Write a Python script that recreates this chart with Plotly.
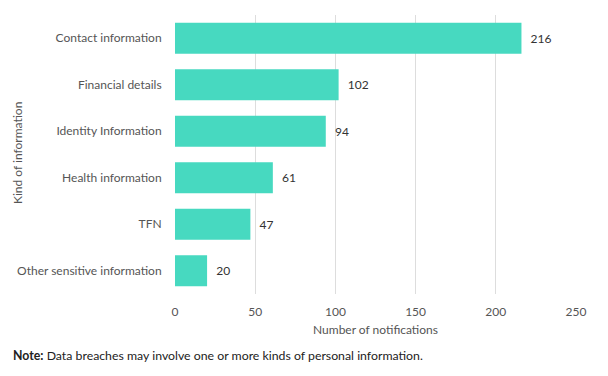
import plotly.graph_objects as go

categories = ["Contact information", "Financial details", "Identity Information",
              "Health information", "TFN", "Other sensitive information"]
values = [216, 102, 94, 61, 47, 20]
tick_vals = [0, 50, 100, 150, 200, 250]

FONT = "Lato, 'Source Sans Pro', 'Open Sans', sans-serif"

# page body has an 8px default margin; figure is sized/offset to compensate
OFF = 8
W, H = 608 - OFF, 376 - OFF
L, R, T, B = 175 - OFF, 32, 15 - OFF, 82

fig = go.Figure(go.Bar(
    x=values, y=categories, orientation="h",
    marker=dict(color="#47D9C0", line=dict(width=0)),
    text=["\u00a0\u00a0" + str(v) for v in values], textposition="outside",
    textfont=dict(size=12, color="#333333", family=FONT),
    cliponaxis=False,
))

fig.update_layout(
    width=W, height=H,
    margin=dict(l=L, r=R, t=T, b=B),
    paper_bgcolor="white", plot_bgcolor="white",
    bargap=0.33,
    showlegend=False,
    font=dict(family=FONT, size=12, color="#555555"),
    xaxis=dict(range=[0, 250], tickvals=tick_vals, showgrid=True, gridcolor="#dddddd",
               gridwidth=1, zeroline=False, showline=False,
               ticks="outside", ticklen=7, tickcolor="rgba(0,0,0,0)",
               tickfont=dict(size=12, color="#555555"),
               title=dict(text="Number of notifications", font=dict(size=12, color="#555555"), standoff=7),
               automargin=False, fixedrange=True),
    yaxis=dict(autorange="reversed", showgrid=False, zeroline=False, showline=False,
               ticks="outside", ticklen=10, tickcolor="rgba(0,0,0,0)",
               tickfont=dict(size=12, color="#555555"), automargin=False, fixedrange=True),
)
plot_w = W - L - R
plot_h = H - T - B

def px(x):
    return (x - OFF - L) / plot_w

def py(y):
    return (H - B - (y - OFF)) / plot_h

fig.add_annotation(text="Kind of information", x=px(17), y=py(153), xref="paper", yref="paper",
                   xanchor="center", yanchor="middle", showarrow=False, textangle=-90,
                   font=dict(size=12, color="#555555"))
fig.add_annotation(text="<b>Note:</b> Data breaches may involve one or more kinds of personal information.",
                   x=px(11), y=py(355), xref="paper", yref="paper", xanchor="left", yanchor="middle",
                   showarrow=False, font=dict(size=12.3, color="#222222"))

fig.write_html("out.html")
